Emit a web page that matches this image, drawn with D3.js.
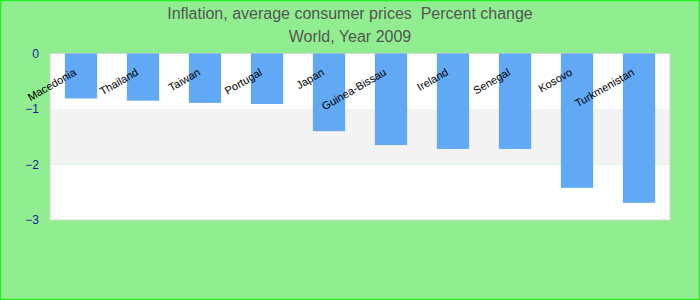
<!DOCTYPE html>
<html>
<head>
<meta charset="utf-8">
<script src="https://cdn.jsdelivr.net/npm/d3@7"></script>
<style>
    body { margin: 0; }
    text { font-family: "Liberation Sans", Arial, sans-serif; }
</style>
</head>
<body>
<svg width="700" height="300"></svg>
<script>
var countries = ['Macedonia', 'Thailand', 'Taiwan', 'Portugal', 'Japan',
    'Guinea-Bissau', 'Ireland', 'Senegal', 'Kosovo', 'Turkmenistan'];
var inflation = [-0.81, -0.85, -0.89, -0.91, -1.40, -1.65, -1.72, -1.72, -2.42, -2.69];
var yTicks = [0, -1, -2, -3];
var titleLines = ['Inflation, average consumer prices  Percent change', 'World, Year 2009'];

(function () {
    var svg = d3.select('svg');
    var width = 700;
    var height = 300;
    var margin = {top: 53.5, right: 30, bottom: 80, left: 50};
    var plotW = width - margin.left - margin.right;
    var plotH = height - margin.top - margin.bottom;

    // фон и рамка
    svg.append('rect')
        .attr('x', 0.5)
        .attr('y', 0.5)
        .attr('width', width - 1)
        .attr('height', height - 1)
        .style('fill', '#90ee90')
        .style('stroke', '#22ee22')
        .style('stroke-width', 1.5);

    var title = svg.append('text')
        .attr('x', width / 2)
        .attr('y', 19)
        .attr('text-anchor', 'middle')
        .style('white-space', 'pre')
        .style('font-size', '16px')
        .style('fill', '#555555');
    title.selectAll('tspan')
        .data(titleLines)
        .enter()
        .append('tspan')
        .attr('x', width / 2)
        .attr('dy', function(d, i) { return i ? 23 : 0; })
        .text(function(d) { return d; });

    var x = d3.scaleBand()
        .domain(countries)
        .range([0, plotW])
        .paddingInner(0.48)
        .paddingOuter(0.24);

    var y = d3.scaleLinear()
        .domain([0, -3])
        .range([0, plotH]);

    var g = svg.append('g')
        .attr('transform', 'translate(' + margin.left + ',' + margin.top + ')');

    // полосы сетки
    var bands = d3.range(yTicks.length - 1);
    g.selectAll('rect.band')
        .data(bands)
        .enter()
        .append('rect')
        .attr('class', 'band')
        .attr('x', 0)
        .attr('width', plotW)
        .attr('y', function(i) { return y(yTicks[i]); })
        .attr('height', function(i) { return y(yTicks[i + 1]) - y(yTicks[i]); })
        .style('fill', function(i) { return i % 2 ? '#f3f3f3' : '#ffffff'; });

    g.append('rect')
        .attr('x', 0)
        .attr('y', 0)
        .attr('width', plotW)
        .attr('height', plotH)
        .style('fill', 'none')
        .style('stroke', '#d4d4d4')
        .style('stroke-width', 1);

    var yAxis = d3.axisLeft(y)
        .tickValues(yTicks)
        .tickSize(0)
        .tickPadding(11)
        .tickFormat(d3.format('d'));

    var ya = g.append('g').call(yAxis);
    ya.select('.domain').remove();
    ya.selectAll('text')
        .style('font-size', '12px')
        .style('fill', '#1c1c9c');

    g.selectAll('rect.bar')
        .data(inflation)
        .enter()
        .append('rect')
        .attr('class', 'bar')
        .attr('x', function(d, i) { return x(countries[i]); })
        .attr('width', x.bandwidth())
        .attr('y', y(0))
        .attr('height', function(d) { return y(d) - y(0); })
        .style('fill', '#61a9f5');

    g.selectAll('text.label')
        .data(countries)
        .enter()
        .append('text')
        .attr('class', 'label')
        .attr('text-anchor', 'end')
        .attr('transform', function(d) {
            var cx = x(d) + x.bandwidth() / 2 - 4;
            return 'translate(' + cx + ',' + 21 + ') rotate(-30)';
        })
        .style('font-size', '11px')
        .style('fill', '#000000')
        .text(function(d) { return d; });
}());
</script>
</body>
</html>
